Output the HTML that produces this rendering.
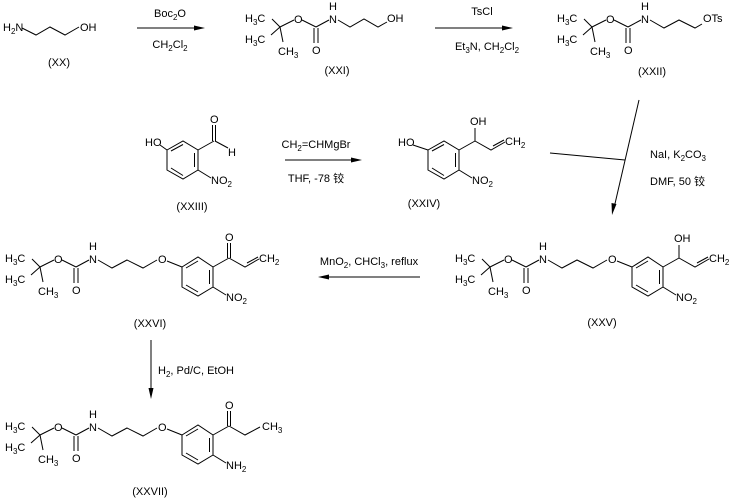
<!DOCTYPE html>
<html><head><meta charset="utf-8"><style>
html,body{margin:0;padding:0;background:#fff;}
svg{display:block;}
text{font-family:"Liberation Sans","Noto Sans CJK SC",sans-serif;font-size:11px;fill:#000;}
line,polyline{stroke:#000;stroke-width:1;fill:none;}
</style></head><body>
<svg width="734" height="498" viewBox="0 0 734 498" xmlns="http://www.w3.org/2000/svg">

<!-- XX -->
<text x="3" y="31">H<tspan dy="3" font-size="8">2</tspan><tspan dy="-3">N</tspan></text>
<polyline points="22,28 36,35 50,27 65,35 79,27"/>
<text x="80" y="31">OH</text>
<text x="59" y="66" text-anchor="middle">(XX)</text>

<!-- arrow 1 -->
<line x1="137" y1="28" x2="200" y2="28"/><polygon points="205,28 194,25.5 194,30.5"/>
<text x="170" y="17" text-anchor="middle">Boc<tspan dy="3" font-size="8">2</tspan><tspan dy="-3">O</tspan></text>
<text x="170" y="48" text-anchor="middle">CH<tspan dy="3" font-size="8">2</tspan><tspan dy="-3">Cl</tspan><tspan dy="3" font-size="8">2</tspan></text>

<!-- XXI -->
<g transform="translate(240,-240)">
<line x1="32" y1="259" x2="40" y2="267"/><line x1="31" y1="275" x2="40" y2="267"/><line x1="40" y1="267" x2="43" y2="282"/><line x1="40" y1="267" x2="54" y2="260"/><line x1="62" y1="260" x2="76" y2="267"/><line x1="74" y1="268" x2="74" y2="283"/><line x1="78" y1="268" x2="78" y2="283"/><line x1="76" y1="267" x2="89" y2="260"/>
<text x="5" y="262">H<tspan dy="3" font-size="8">3</tspan><tspan dy="-3">C</tspan></text>
<text x="5" y="283">H<tspan dy="3" font-size="8">3</tspan><tspan dy="-3">C</tspan></text>
<text x="38" y="295">CH<tspan dy="3" font-size="8">3</tspan></text>
<text x="54" y="263">O</text><text x="72" y="294">O</text><text x="89" y="250">H</text><text x="89" y="263">N</text>
<polyline points="98,260 110,267 124,259 138,267 147,262"/>
<text x="147" y="262">OH</text>
<text x="97" y="314" text-anchor="middle">(XXI)</text>
</g>

<!-- arrow 2 -->
<line x1="435" y1="28" x2="508" y2="28"/><polygon points="513,28 502,25.5 502,30.5"/>
<text x="482" y="15" text-anchor="middle">TsCl</text>
<text x="487" y="50" text-anchor="middle">Et<tspan dy="3" font-size="8">3</tspan><tspan dy="-3">N, CH</tspan><tspan dy="3" font-size="8">2</tspan><tspan dy="-3">Cl</tspan><tspan dy="3" font-size="8">2</tspan></text>

<!-- XXII -->
<g transform="translate(552,-240)">
<line x1="32" y1="259" x2="40" y2="267"/><line x1="31" y1="275" x2="40" y2="267"/><line x1="40" y1="267" x2="43" y2="282"/><line x1="40" y1="267" x2="54" y2="260"/><line x1="62" y1="260" x2="76" y2="267"/><line x1="74" y1="268" x2="74" y2="283"/><line x1="78" y1="268" x2="78" y2="283"/><line x1="76" y1="267" x2="89" y2="260"/>
<text x="5" y="262">H<tspan dy="3" font-size="8">3</tspan><tspan dy="-3">C</tspan></text>
<text x="5" y="283">H<tspan dy="3" font-size="8">3</tspan><tspan dy="-3">C</tspan></text>
<text x="38" y="295">CH<tspan dy="3" font-size="8">3</tspan></text>
<text x="54" y="263">O</text><text x="72" y="294">O</text><text x="89" y="250">H</text><text x="89" y="263">N</text>
<polyline points="98,260 112,268 127,260 143,268 150,264"/>
<text x="151" y="262">OTs</text>
<text x="100" y="315" text-anchor="middle">(XXII)</text>
</g>

<!-- XXIII -->
<text x="145" y="146">HO</text>
<line x1="160" y1="145" x2="167" y2="150"/>
<polygon points="167,150 183,141 198,150 198,170 183,179 167,170" fill="none" stroke="#000"/>
<line x1="171" y1="151" x2="183" y2="144.5"/><line x1="194.5" y1="153" x2="194.5" y2="167"/><line x1="171" y1="168" x2="183" y2="175.5"/>
<line x1="198" y1="150" x2="214" y2="141"/>
<line x1="212.5" y1="141" x2="212.5" y2="125"/><line x1="215.5" y1="141" x2="215.5" y2="125"/>
<text x="210" y="123">O</text>
<line x1="215" y1="141" x2="228" y2="148"/>
<text x="228" y="156">H</text>
<line x1="198" y1="170" x2="211" y2="178"/>
<text x="211" y="184">NO<tspan dy="3" font-size="8">2</tspan></text>
<text x="192" y="210" text-anchor="middle">(XXIII)</text>

<!-- arrow 3 -->
<line x1="285" y1="160" x2="357" y2="160"/><polygon points="362,160 351,157.5 351,162.5"/>
<text x="316" y="148" text-anchor="middle">CH<tspan dy="3" font-size="8">2</tspan><tspan dy="-3">=CHMgBr</tspan></text>
<text x="316" y="182" text-anchor="middle">THF, -78 铰</text>

<!-- XXIV -->
<text x="398" y="146">HO</text>
<line x1="413" y1="145" x2="428" y2="150"/>
<polygon points="428,150 444,141 459,150 459,170 444,179 428,170" fill="none" stroke="#000"/>
<line x1="432" y1="151" x2="444" y2="144.5"/><line x1="455.5" y1="153" x2="455.5" y2="167"/><line x1="432" y1="168" x2="444" y2="175.5"/>
<line x1="459" y1="150" x2="475" y2="141"/>
<line x1="475" y1="141" x2="475" y2="128"/>
<text x="470" y="125">OH</text>
<polyline points="475,141 491,150 505,142"/>
<line x1="493" y1="146" x2="504" y2="140"/>
<text x="505" y="145">CH<tspan dy="3" font-size="8">2</tspan></text>
<line x1="459" y1="170" x2="472" y2="178"/>
<text x="472" y="184">NO<tspan dy="3" font-size="8">2</tspan></text>
<text x="424" y="207" text-anchor="middle">(XXIV)</text>

<!-- convergent arrow -->
<line x1="550" y1="153" x2="625" y2="160"/>
<line x1="639" y1="100" x2="614" y2="208"/><polygon points="612,215 611.5,203 616.5,204"/>
<text x="650" y="158">NaI, K<tspan dy="3" font-size="8">2</tspan><tspan dy="-3">CO</tspan><tspan dy="3" font-size="8">3</tspan></text>
<text x="650" y="185">DMF, 50 铰</text>

<!-- XXV -->
<g transform="translate(450,0)">
<line x1="32" y1="259" x2="40" y2="267"/><line x1="31" y1="275" x2="40" y2="267"/><line x1="40" y1="267" x2="43" y2="282"/><line x1="40" y1="267" x2="54" y2="260"/><line x1="62" y1="260" x2="76" y2="267"/><line x1="74" y1="268" x2="74" y2="283"/><line x1="78" y1="268" x2="78" y2="283"/><line x1="76" y1="267" x2="89" y2="260"/>
<text x="5" y="262">H<tspan dy="3" font-size="8">3</tspan><tspan dy="-3">C</tspan></text>
<text x="5" y="283">H<tspan dy="3" font-size="8">3</tspan><tspan dy="-3">C</tspan></text>
<text x="38" y="295">CH<tspan dy="3" font-size="8">3</tspan></text>
<text x="54" y="263">O</text><text x="72" y="294">O</text><text x="89" y="250">H</text><text x="89" y="263">N</text>
<polyline points="98,260 112,268 127,260 143,268 157,260"/>
<text x="158" y="263">O</text>
<line x1="167" y1="261" x2="182" y2="267"/>
<polygon points="182,267 198,257 213,267 213,287 198,296 182,287" fill="none" stroke="#000"/>
<line x1="186" y1="268" x2="198" y2="261"/><line x1="209.5" y1="270" x2="209.5" y2="284"/><line x1="186" y1="285" x2="198" y2="292"/>
<line x1="213" y1="267" x2="229" y2="258"/>
<line x1="229" y1="258" x2="229" y2="245"/>
<text x="224" y="242">OH</text>
<polyline points="229,258 245,267 259,259"/>
<line x1="247" y1="263" x2="258" y2="257"/>
<text x="259" y="262">CH<tspan dy="3" font-size="8">2</tspan></text>
<line x1="213" y1="287" x2="226" y2="295"/>
<text x="226" y="301">NO<tspan dy="3" font-size="8">2</tspan></text>
<text x="152" y="326" text-anchor="middle">(XXV)</text>
</g>

<!-- MnO2 arrow -->
<line x1="420" y1="277" x2="323" y2="277"/><polygon points="318,277 329,274.5 329,279.5"/>
<text x="369" y="265" text-anchor="middle">MnO<tspan dy="3" font-size="8">2</tspan><tspan dy="-3">, CHCl</tspan><tspan dy="3" font-size="8">3</tspan><tspan dy="-3">, reflux</tspan></text>

<!-- XXVI -->
<g>
<line x1="32" y1="259" x2="40" y2="267"/><line x1="31" y1="275" x2="40" y2="267"/><line x1="40" y1="267" x2="43" y2="282"/><line x1="40" y1="267" x2="54" y2="260"/><line x1="62" y1="260" x2="76" y2="267"/><line x1="74" y1="268" x2="74" y2="283"/><line x1="78" y1="268" x2="78" y2="283"/><line x1="76" y1="267" x2="89" y2="260"/>
<text x="5" y="262">H<tspan dy="3" font-size="8">3</tspan><tspan dy="-3">C</tspan></text>
<text x="5" y="283">H<tspan dy="3" font-size="8">3</tspan><tspan dy="-3">C</tspan></text>
<text x="38" y="295">CH<tspan dy="3" font-size="8">3</tspan></text>
<text x="54" y="263">O</text><text x="72" y="294">O</text><text x="89" y="250">H</text><text x="89" y="263">N</text>
<polyline points="98,260 112,268 127,260 143,268 157,260"/>
<text x="158" y="263">O</text>
<line x1="167" y1="261" x2="182" y2="267"/>
<polygon points="182,267 198,257 213,267 213,287 198,296 182,287" fill="none" stroke="#000"/>
<line x1="186" y1="268" x2="198" y2="261"/><line x1="209.5" y1="270" x2="209.5" y2="284"/><line x1="186" y1="285" x2="198" y2="292"/>
<line x1="213" y1="267" x2="229" y2="258"/>
<line x1="227.5" y1="258" x2="227.5" y2="243"/><line x1="230.5" y1="258" x2="230.5" y2="243"/>
<text x="225" y="241">O</text>
<polyline points="229,258 245,267 259,259"/>
<line x1="247" y1="263" x2="258" y2="257"/>
<text x="259" y="262">CH<tspan dy="3" font-size="8">2</tspan></text>
<line x1="213" y1="287" x2="226" y2="295"/>
<text x="226" y="301">NO<tspan dy="3" font-size="8">2</tspan></text>
<text x="150" y="327" text-anchor="middle">(XXVI)</text>
</g>

<!-- H2 arrow -->
<line x1="151" y1="340" x2="151" y2="393"/><polygon points="151,399 148.5,388 153.5,388"/>
<text x="158" y="374">H<tspan dy="3" font-size="8">2</tspan><tspan dy="-3">, Pd/C, EtOH</tspan></text>

<!-- XXVII -->
<g transform="translate(0,168)">
<line x1="32" y1="259" x2="40" y2="267"/><line x1="31" y1="275" x2="40" y2="267"/><line x1="40" y1="267" x2="43" y2="282"/><line x1="40" y1="267" x2="54" y2="260"/><line x1="62" y1="260" x2="76" y2="267"/><line x1="74" y1="268" x2="74" y2="283"/><line x1="78" y1="268" x2="78" y2="283"/><line x1="76" y1="267" x2="89" y2="260"/>
<text x="5" y="262">H<tspan dy="3" font-size="8">3</tspan><tspan dy="-3">C</tspan></text>
<text x="5" y="283">H<tspan dy="3" font-size="8">3</tspan><tspan dy="-3">C</tspan></text>
<text x="38" y="295">CH<tspan dy="3" font-size="8">3</tspan></text>
<text x="54" y="263">O</text><text x="72" y="294">O</text><text x="89" y="250">H</text><text x="89" y="263">N</text>
<polyline points="98,260 112,268 127,260 143,268 157,260"/>
<text x="158" y="263">O</text>
<line x1="167" y1="261" x2="182" y2="267"/>
<polygon points="182,267 198,257 213,267 213,287 198,296 182,287" fill="none" stroke="#000"/>
<line x1="186" y1="268" x2="198" y2="261"/><line x1="209.5" y1="270" x2="209.5" y2="284"/><line x1="186" y1="285" x2="198" y2="292"/>
<line x1="213" y1="267" x2="229" y2="258"/>
<line x1="227.5" y1="258" x2="227.5" y2="243"/><line x1="230.5" y1="258" x2="230.5" y2="243"/>
<text x="225" y="241">O</text>
<polyline points="229,258 245,267 260,259"/>
<text x="262" y="262">CH<tspan dy="3" font-size="8">3</tspan></text>
<line x1="213" y1="287" x2="226" y2="295"/>
<text x="226" y="301">NH<tspan dy="3" font-size="8">2</tspan></text>
<text x="150" y="327" text-anchor="middle">(XXVII)</text>
</g>
</svg>
</body></html>
